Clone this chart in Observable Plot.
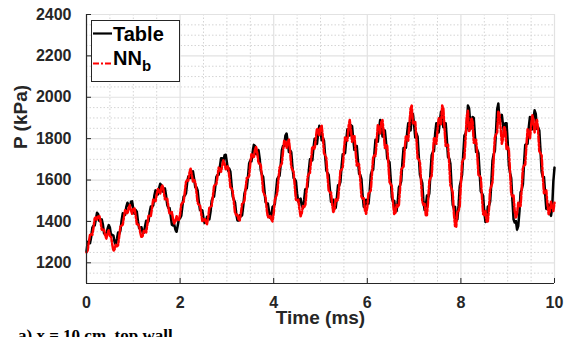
<!DOCTYPE html>
<html><head><meta charset="utf-8">
<script src="https://cdn.jsdelivr.net/npm/d3@7"></script>
<script src="https://cdn.jsdelivr.net/npm/@observablehq/plot@0.6"></script>
<style>
html,body{margin:0;padding:0;background:#fff;overflow:hidden;}
#wrap{position:relative;width:564px;height:337px;overflow:hidden;}
#caption{position:absolute;left:18px;top:326px;font:bold 17px "Liberation Serif",serif;color:#000;white-space:nowrap;}
#legend{position:absolute;left:0;top:0;pointer-events:none;}
</style></head><body>
<div id="wrap"><div id="chart"></div>
<svg id="legend" width="564" height="337"></svg>
<div id="caption">a) x = 10 cm, top wall</div></div>
<script>
// sampling of the two pressure traces (ms)
const t0 = 0, dt = 0.025;
// "Table" series, kPa, every 0.025 ms
const tablePressure = [
1255,1300,1305,1295,1325,1370,1380,1380,1410,1442,1435,1402,1405,1410,1385,1342,1340,1337,1365,1382,
1370,1332,1335,1332,1300,1287,1315,1347,1340,1357,1405,1440,1435,1432,1470,1490,1475,1465,1495,1497,
1460,1437,1455,1447,1400,1367,1370,1372,1345,1345,1375,1403,1395,1400,1445,1472,1470,1477,1525,1550,
1540,1530,1560,1582,1575,1545,1555,1560,1525,1480,1465,1465,1425,1384,1380,1385,1360,1350,1380,1412,
1415,1427,1475,1520,1525,1535,1585,1617,1610,1610,1640,1642,1605,1565,1565,1550,1495,1455,1455,1453,
1415,1392,1400,1422,1415,1410,1445,1500,1515,1520,1565,1615,1625,1625,1665,1705,1705,1692,1720,1722,
1685,1645,1655,1640,1575,1520,1505,1490,1435,1405,1405,1430,1425,1430,1475,1535,1555,1560,1615,1680,
1695,1690,1735,1770,1765,1725,1735,1745,1705,1645,1625,1615,1555,1495,1485,1487,1450,1417,1425,1470,
1475,1485,1545,1605,1615,1620,1675,1745,1765,1765,1815,1825,1785,1735,1745,1735,1665,1610,1605,1595,
1535,1495,1505,1510,1475,1465,1505,1555,1555,1570,1645,1700,1695,1695,1755,1800,1785,1775,1825,1862,
1840,1792,1805,1790,1715,1645,1635,1625,1555,1495,1495,1505,1465,1465,1515,1575,1575,1590,1665,1725,
1725,1730,1795,1845,1835,1815,1865,1860,1795,1745,1765,1765,1695,1630,1625,1605,1525,1470,1475,1505,
1485,1485,1545,1625,1645,1650,1725,1795,1795,1785,1845,1890,1885,1810,1815,1840,1785,1705,1695,1685,
1605,1515,1495,1500,1455,1450,1495,1565,1575,1595,1685,1755,1755,1755,1825,1875,1855,1840,1905,1920,
1865,1805,1825,1810,1715,1625,1605,1585,1495,1455,1475,1525,1515,1535,1635,1720,1735,1740,1825,1875,
1855,1830,1885,1930,1915,1855,1875,1875,1795,1710,1705,1680,1575,1480,1465,1470,1405,1410,1475,1570,
1595,1625,1725,1815,1825,1852,1960,1947,1875,1850,1905,1900,1815,1735,1745,1730,1635,1545,1535,1525,
1445,1397,1410,1472,1475,1495,1585,1695,1725,1740,1835,1942,1970,1887,1885,1915,1865,1825,1875,1875,
1785,1670,1635,1610,1505,1410,1395,1402,1360,1377,1445,1540,1555,1580,1685,1770,1775,1775,1855,1905,
1875,1845,1895,1937,1920,1847,1855,1840,1745,1640,1615,1615,1535,1460,1465,1482,1440,1427,1465,1592,
1660];
// "NN_b" series, kPa, every 0.025 ms
const nnPressure = [
1250,1260,1300,1335,1340,1335,1370,1415,1420,1407,1425,1427,1400,1360,1360,1360,1330,1317,1345,1357,
1330,1325,1290,1257,1265,1287,1280,1285,1330,1375,1380,1385,1420,1455,1450,1437,1465,1480,1455,1437,
1460,1465,1430,1387,1385,1380,1345,1322,1330,1355,1350,1347,1385,1427,1430,1427,1465,1505,1505,1497,
1530,1557,1545,1535,1565,1575,1545,1507,1510,1510,1470,1435,1440,1445,1410,1390,1400,1425,1410,1407,
1435,1482,1490,1495,1540,1590,1600,1597,1635,1655,1625,1592,1600,1590,1540,1490,1480,1480,1440,1402,
1405,1415,1395,1387,1420,1465,1470,1475,1520,1570,1580,1580,1620,1660,1650,1640,1670,1695,1680,1652,
1665,1667,1620,1565,1560,1545,1490,1440,1430,1435,1410,1405,1440,1485,1490,1500,1560,1610,1610,1620,
1680,1725,1720,1707,1745,1762,1730,1680,1680,1670,1610,1545,1530,1520,1460,1420,1420,1430,1410,1400,
1440,1505,1520,1535,1600,1660,1670,1680,1740,1790,1780,1755,1790,1795,1740,1665,1650,1640,1570,1505,
1500,1505,1460,1425,1440,1475,1470,1475,1540,1615,1630,1635,1700,1760,1760,1750,1800,1850,1840,1817,
1855,1862,1810,1730,1720,1705,1620,1550,1540,1540,1480,1445,1460,1510,1500,1505,1570,1645,1650,1660,
1740,1805,1800,1790,1860,1890,1840,1785,1810,1815,1740,1670,1680,1675,1600,1520,1510,1512,1455,1437,
1470,1535,1540,1550,1630,1710,1720,1715,1790,1865,1860,1825,1880,1890,1830,1755,1770,1765,1680,1590,
1580,1570,1490,1435,1440,1480,1470,1480,1560,1650,1660,1665,1750,1815,1800,1790,1870,1945,1960,1870,
1880,1880,1800,1705,1700,1685,1590,1495,1480,1485,1430,1430,1500,1595,1610,1620,1720,1805,1800,1775,
1840,1900,1880,1870,1960,1945,1850,1765,1770,1770,1680,1575,1560,1540,1440,1377,1375,1447,1450,1475,
1580,1685,1700,1705,1800,1907,1935,1837,1840,1900,1880,1780,1780,1795,1720,1625,1620,1615,1520,1435,
1430,1450,1400,1400,1460,1555,1570,1590,1700,1805,1820,1830,1930,1920,1850,1775,1800,1860,1840,1750,
1760,1745,1640,1535,1520,1525,1450,1415,1440,1490,1470,1475,1560,1660,1670,1675,1770,1845,1830,1800,
1860,1915,1890,1830,1870,1895,1840,1740,1730,1720,1620,1535,1540,1550,1480,1435,1450,1495,1470,1450,
1490];
const seriesNames = ["Table", "NN"];
const seriesSub = "b";
const xTicks = [0, 2, 4, 6, 8, 10];
const yTicks = [1200, 1400, 1600, 1800, 2000, 2200, 2400];
const xMinor = [0.5, 1, 1.5, 2.5, 3, 3.5, 4.5, 5, 5.5, 6.5, 7, 7.5, 8.5, 9, 9.5];
const yMinor = [1100, 1150, 1250, 1300, 1350, 1450, 1500, 1550, 1650, 1700, 1750, 1850, 1900, 1950, 2050, 2100, 2150, 2250, 2300, 2350];
const xLabel = "Time (ms)";
const yLabel = "P (kPa)";

const data = tablePressure.map((v, i) => ({t: +(t0 + i * dt).toFixed(3), table: v, nn: nnPressure[i]}));

const W = 564, H = 337, mL = 86, mR = 10, mT = 14, mB = 54;
const axisColor = "#262626";

const chart = Plot.plot({
  width: W, height: H,
  marginLeft: mL, marginRight: mR, marginTop: mT, marginBottom: mB,
  style: {background: "#fff", fontFamily: "'Liberation Sans', Arial, sans-serif", fontWeight: "bold", fontSize: "16px", color: axisColor},
  x: {domain: [0, 10]},
  y: {domain: [1100, 2400]},
  marks: [
    Plot.ruleX(xMinor, {stroke: "#d4d4d4", strokeDasharray: "1.5,2"}),
    Plot.ruleY(yMinor, {stroke: "#d4d4d4", strokeDasharray: "1.5,2"}),
    Plot.ruleX(xTicks, {stroke: "#e2e2e2", strokeWidth: 1.2}),
    Plot.ruleY(yTicks, {stroke: "#e2e2e2", strokeWidth: 1.2}),
    Plot.line(data, {x: "t", y: "table", stroke: "#000", strokeWidth: 2.5}),
    Plot.line(data, {x: "t", y: "nn", stroke: "#ff0000", strokeWidth: 2.5, strokeDasharray: "6,2,2,2"}),
    Plot.ruleX([0], {stroke: axisColor, strokeWidth: 1.2}),
    Plot.ruleY([1100], {stroke: axisColor, strokeWidth: 1.2}),
    Plot.ruleX(xTicks, {stroke: axisColor, insetTop: (H - mT - mB) - 5}),
    Plot.ruleY(yTicks, {stroke: axisColor, insetRight: (W - mL - mR) - 5}),
    Plot.axisX({ticks: xTicks, tickSize: 0, tickPadding: 13, tickFormat: d => String(d), label: null, fontSize: 16}),
    Plot.axisY({ticks: yTicks, tickSize: 0, tickPadding: 15, tickFormat: d => String(d), label: null, fontSize: 16}),
    Plot.text([xLabel], {frameAnchor: "bottom", dy: 40, text: d => d, fontSize: 19, fontWeight: "bold", fill: axisColor}),
    Plot.text([yLabel], {frameAnchor: "left", dx: -66, rotate: -90, text: d => d, fontSize: 19, fontWeight: "bold", fill: axisColor})
  ]
});
document.getElementById("chart").appendChild(chart);

// legend
const lg = d3.select("#legend");
lg.append("rect").attr("x", 91.5).attr("y", 20.5).attr("width", 88).attr("height", 61)
  .attr("fill", "#fff").attr("stroke", axisColor).attr("stroke-width", 1);
lg.append("line").attr("x1", 93).attr("x2", 112).attr("y1", 33.5).attr("y2", 33.5)
  .attr("stroke", "#000").attr("stroke-width", 2.2);
lg.append("line").attr("x1", 93).attr("x2", 112).attr("y1", 63.5).attr("y2", 63.5)
  .attr("stroke", "#ff0000").attr("stroke-width", 2.2).attr("stroke-dasharray", "6,2,2,2");
const ft = "'Liberation Sans', Arial, sans-serif";
lg.append("text").attr("x", 113).attr("y", 40.7).attr("font-family", ft).attr("font-weight", "bold")
  .attr("font-size", 20).attr("fill", "#000").text(seriesNames[0]);
const t2 = lg.append("text").attr("x", 113).attr("y", 65).attr("font-family", ft).attr("font-weight", "bold")
  .attr("font-size", 20).attr("fill", "#000");
t2.append("tspan").text(seriesNames[1]);
t2.append("tspan").attr("dy", 5.7).attr("font-size", 15).text(seriesSub);
</script>
</body></html>
